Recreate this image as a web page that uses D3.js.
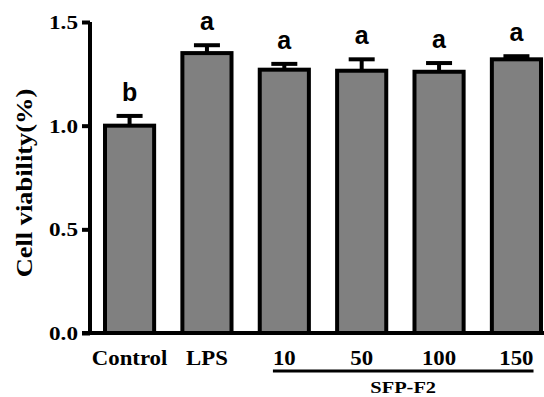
<!DOCTYPE html>
<html>
<head>
<meta charset="utf-8">
<script src="https://cdn.jsdelivr.net/npm/d3@7"></script>
<style>
  html, body { margin: 0; padding: 0; background: #fff; }
  svg { display: block; }
</style>
</head>
<body>
<script>
var width = 544;
var height = 397;

// data
var groups = ["Control", "LPS", "10", "50", "100", "150"];
var means = [1.00, 1.35, 1.27, 1.265, 1.26, 1.32];
var errors = [0.047, 0.038, 0.028, 0.055, 0.042, 0.015];
var letters = ["b", "a", "a", "a", "a", "a"];
var yTicks = [0.0, 0.5, 1.0, 1.5];
var bracketGroups = ["10", "150"];
var bracketLabel = "SFP-F2";

var stretch = 1.14;

var svg = d3.select("body")
            .append("svg")
            .attr("width", width)
            .attr("height", height);

var yScale = d3.scaleLinear()
               .domain([0, 1.5])
               .range([333, 22]);

var xScale = d3.scaleBand()
               .domain(groups)
               .range([90, 556])
               .paddingInner(0.365)
               .paddingOuter(0.194);

// bars
svg.selectAll(".bar")
   .data(groups)
   .enter()
   .append("rect")
   .attr("class", "bar")
   .attr("x", (d) => xScale(d))
   .attr("y", (d, i) => yScale(means[i]))
   .attr("width", xScale.bandwidth())
   .attr("height", (d, i) => yScale(0) - yScale(means[i]))
   .attr("fill", "#808080")
   .attr("stroke", "#000")
   .attr("stroke-width", 4);

// error bars (upper only)
var err = svg.selectAll(".err")
             .data(groups)
             .enter()
             .append("g")
             .attr("class", "err");

err.append("line")
   .attr("x1", (d) => xScale(d) + xScale.bandwidth() / 2)
   .attr("x2", (d) => xScale(d) + xScale.bandwidth() / 2)
   .attr("y1", (d, i) => yScale(means[i]))
   .attr("y2", (d, i) => yScale(means[i] + errors[i]))
   .attr("stroke", "#000")
   .attr("stroke-width", 4);

err.append("line")
   .attr("x1", (d) => xScale(d) + xScale.bandwidth() / 2 - 13)
   .attr("x2", (d) => xScale(d) + xScale.bandwidth() / 2 + 13)
   .attr("y1", (d, i) => yScale(means[i] + errors[i]))
   .attr("y2", (d, i) => yScale(means[i] + errors[i]))
   .attr("stroke", "#000")
   .attr("stroke-width", 4);

// significance letters
svg.selectAll(".letter")
   .data(groups)
   .enter()
   .append("text")
   .attr("class", "letter")
   .attr("x", (d) => xScale(d) + xScale.bandwidth() / 2)
   .attr("y", (d, i) => yScale(means[i] + errors[i]) - 15)
   .attr("text-anchor", "middle")
   .style("font-family", "'Liberation Sans', Arial, sans-serif")
   .style("font-weight", "bold")
   .style("font-size", "25px")
   .text((d, i) => letters[i]);

// y axis
var yAxis = d3.axisLeft(yScale)
              .tickValues(yTicks)
              .tickFormat(d3.format(".1f"))
              .tickSize(8)
              .tickSizeOuter(0)
              .tickPadding(5);

var yG = svg.append("g")
            .attr("transform", "translate(90,0)")
            .call(yAxis);

yG.select(".domain")
  .attr("stroke-width", 4)
  .attr("d", "M0," + yScale(1.5) + "V" + (yScale(0) + 2));

yG.selectAll(".tick line")
  .attr("stroke-width", 4);

yG.selectAll(".tick text")
  .attr("x", 0)
  .attr("dy", "0.34em")
  .attr("transform", "translate(-12,0) scale(1.22,1)")
  .style("font-family", "'Liberation Serif', 'Times New Roman', serif")
  .style("font-weight", "bold")
  .style("font-size", "19px")
  .attr("fill", "#000");

// x axis baseline
svg.append("line")
   .attr("x1", 82)
   .attr("x2", width)
   .attr("y1", yScale(0))
   .attr("y2", yScale(0))
   .attr("stroke", "#000")
   .attr("stroke-width", 4);

// category labels
svg.selectAll(".xlabel")
   .data(groups)
   .enter()
   .append("text")
   .attr("class", "xlabel")
   .attr("transform", (d) => "translate(" + (xScale(d) + xScale.bandwidth() / 2) + ",365) scale(" + stretch + ",1)")
   .attr("text-anchor", "middle")
   .style("font-family", "'Liberation Serif', 'Times New Roman', serif")
   .style("font-weight", "bold")
   .style("font-size", "20px")
   .text((d) => d);

// bracket under the SFP-F2 doses
var labelNodes = svg.selectAll(".xlabel").nodes();
var first = labelNodes[groups.indexOf(bracketGroups[0])];
var last = labelNodes[groups.indexOf(bracketGroups[1])];
var x0 = xScale(bracketGroups[0]) + xScale.bandwidth() / 2 - first.getBBox().width * stretch / 2;
var x1 = xScale(bracketGroups[1]) + xScale.bandwidth() / 2 + last.getBBox().width * stretch / 2;

svg.append("line")
   .attr("x1", x0)
   .attr("x2", x1)
   .attr("y1", 371)
   .attr("y2", 371)
   .attr("stroke", "#000")
   .attr("stroke-width", 3);

svg.append("text")
   .attr("transform", "translate(" + ((x0 + x1) / 2) + ",393) scale(1.2,1)")
   .attr("text-anchor", "middle")
   .style("font-family", "'Liberation Serif', 'Times New Roman', serif")
   .style("font-weight", "bold")
   .style("font-size", "17px")
   .text(bracketLabel);

// y axis title
svg.append("text")
   .attr("transform", "translate(32,183) rotate(-90) scale(1.15,1)")
   .attr("text-anchor", "middle")
   .style("font-family", "'Liberation Serif', 'Times New Roman', serif")
   .style("font-weight", "bold")
   .style("font-size", "23px")
   .text("Cell viability(%)");
</script>
</body>
</html>
